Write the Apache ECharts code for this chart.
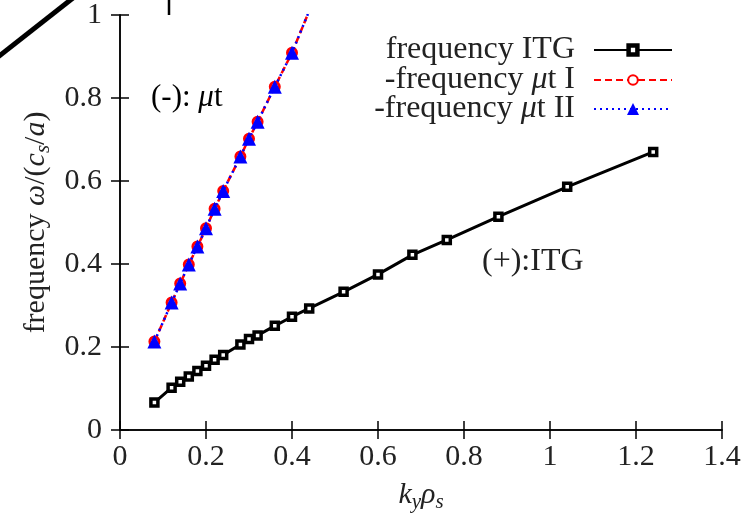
<!DOCTYPE html>
<html>
<head>
<meta charset="utf-8">
<script src="https://cdn.jsdelivr.net/npm/echarts@6/dist/echarts.min.js"></script>
<style>html,body{margin:0;padding:0;background:#fff;}#c{width:752px;height:520px;}</style>
</head>
<body>
<div id="c"></div>
<script>
// ---- data ----
var kyITG   = [0.08, 0.12, 0.14, 0.16, 0.18, 0.20, 0.22, 0.24, 0.28, 0.30, 0.32, 0.36, 0.40, 0.44, 0.52, 0.60, 0.68, 0.76, 0.88, 1.04, 1.24];
var freqITG = [0.066, 0.102, 0.116, 0.129, 0.142, 0.155, 0.169, 0.181, 0.206, 0.219, 0.228, 0.251, 0.273, 0.293, 0.333, 0.375, 0.422, 0.458, 0.514, 0.586, 0.670];
var kyMuT    = [0.08, 0.12, 0.14, 0.16, 0.18, 0.20, 0.22, 0.24, 0.28, 0.30, 0.32, 0.36, 0.40, 0.44];
var freqMuT1 = [0.213, 0.307, 0.353, 0.399, 0.442, 0.486, 0.533, 0.576, 0.659, 0.702, 0.743, 0.827, 0.909, 1.01];
var freqMuT2 = [0.213, 0.307, 0.353, 0.399, 0.442, 0.486, 0.533, 0.576, 0.659, 0.702, 0.743, 0.827, 0.909, 1.01];
var xTicks = [0, 0.2, 0.4, 0.6, 0.8, 1, 1.2, 1.4];
var yTicks = [0, 0.2, 0.4, 0.6, 0.8, 1];
var seriesNames = ['frequency ITG', '-frequency \u03bct I', '-frequency \u03bct II'];

function pairs(xs, ys) { return xs.map(function (x, i) { return [x, ys[i]]; }); }

var FONT = 'Liberation Serif';
var TXT = '#222';
var FS = 30;
var LFS = 32;
var rich = {
  i: { fontFamily: FONT, fontStyle: 'italic', fontSize: FS, color: TXT, lineHeight: 34 },
  n: { fontFamily: FONT, fontSize: FS, color: TXT, lineHeight: 34 },
  s: { fontFamily: FONT, fontStyle: 'italic', fontSize: 21, color: TXT, lineHeight: 20, padding: [14, 0, 0, 0] }
};

function fmtNum(v) { return String(Math.round(v * 10) / 10); }

var chart = echarts.init(document.getElementById('c'), null, { renderer: 'canvas' });

function legendFor(item, top, h) {
  return {
    data: [item],
    right: 79,
    top: top,
    orient: 'vertical',
    align: 'right',
    itemWidth: 78,
    itemHeight: h,
    padding: 0,
    selectedMode: false,
    formatter: function (n) { return n.replace('\u03bc', '{i|\u03bc}'); },
    textStyle: {
      fontFamily: FONT, fontSize: LFS, color: TXT, padding: [0, 14, 0, 0],
      rich: { i: { fontFamily: FONT, fontStyle: 'italic', fontSize: LFS, color: TXT } }
    }
  };
}

var axisLineStyle = { color: '#000', width: 1.5 };

chart.setOption({
  backgroundColor: '#fff',
  animation: false,
  grid: { left: 120, right: 30, top: 15, bottom: 90, containLabel: false },
  legend: [
    legendFor({ name: seriesNames[0], itemStyle: { borderWidth: 4.5 } }, 34, 11),
    legendFor({ name: seriesNames[1] }, 64, 12),
    legendFor({ name: seriesNames[2] }, 93, 15)
  ],
  xAxis: [{
    type: 'value', min: xTicks[0], max: xTicks[xTicks.length - 1], interval: 0.2,
    position: 'bottom',
    axisLine: { show: true, lineStyle: axisLineStyle },
    axisTick: { show: true, inside: true, length: 9, lineStyle: { color: '#000', width: 1.5 } },
    splitLine: { show: false },
    axisLabel: { fontFamily: FONT, fontSize: FS, color: TXT, margin: 12, formatter: fmtNum },
    name: '{i|k}{s|y}{i|\u03c1}{s|s}',
    nameLocation: 'middle', nameGap: 48,
    nameTextStyle: { rich: rich }
  }, {
    type: 'value', min: xTicks[0], max: xTicks[xTicks.length - 1], interval: 0.2,
    position: 'top',
    axisLine: { show: true, lineStyle: axisLineStyle },
    axisTick: { show: true, inside: true, length: 9, lineStyle: { color: '#000', width: 1.5 } },
    splitLine: { show: false },
    axisLabel: { show: false }
  }],
  yAxis: [{
    type: 'value', min: yTicks[0], max: yTicks[yTicks.length - 1], interval: 0.2,
    position: 'left',
    axisLine: { show: true, lineStyle: axisLineStyle },
    axisTick: { show: true, inside: true, length: 9, lineStyle: { color: '#000', width: 1.5 } },
    splitLine: { show: false },
    axisLabel: { fontFamily: FONT, fontSize: FS, color: TXT, margin: 18, formatter: fmtNum },
    name: '{n|frequency }{i|\u03c9}{n|/(}{i|c}{s|s}{n|/}{i|a}{n|)}',
    nameLocation: 'middle', nameGap: 66,
    nameTextStyle: { rich: rich }
  }, {
    type: 'value', min: yTicks[0], max: yTicks[yTicks.length - 1], interval: 0.2,
    position: 'right',
    axisLine: { show: true, lineStyle: axisLineStyle },
    axisTick: { show: true, inside: true, length: 9, lineStyle: { color: '#000', width: 1.5 } },
    splitLine: { show: false },
    axisLabel: { show: false }
  }],
  series: [{
    name: seriesNames[0], type: 'line', xAxisIndex: 0, yAxisIndex: 0,
    data: pairs(kyITG, freqITG), clip: true,
    symbol: 'rect', symbolSize: 7, showAllSymbol: true,
    lineStyle: { color: '#000', width: 3, type: 'solid' },
    itemStyle: { color: '#fff', borderColor: '#000', borderWidth: 3.5 },
    z: 3
  }, {
    name: seriesNames[1], type: 'line', xAxisIndex: 0, yAxisIndex: 0,
    data: pairs(kyMuT, freqMuT1), clip: true,
    symbol: 'circle', symbolSize: 9, showAllSymbol: true,
    lineStyle: { color: '#ff0000', width: 2.5, type: [7, 4] },
    itemStyle: { color: '#fff', borderColor: '#ff0000', borderWidth: 3 },
    z: 3
  }, {
    name: seriesNames[2], type: 'line', xAxisIndex: 0, yAxisIndex: 0,
    data: pairs(kyMuT, freqMuT2), clip: true,
    symbol: 'triangle', symbolSize: 14, showAllSymbol: true,
    lineStyle: { color: '#0000ff', width: 2.5, type: [2, 4] },
    itemStyle: { color: '#0000ff', borderColor: '#0000ff', borderWidth: 0 },
    z: 4
  }],
  graphic: [
    { type: 'text', left: 151, top: 82, z: 10,
      style: { text: '{n|(-): }{i|\u03bc}{n|t}', rich: {
        i: { fontFamily: FONT, fontStyle: 'italic', fontSize: 31, color: TXT, lineHeight: 34 },
        n: { fontFamily: FONT, fontSize: 31, color: TXT, lineHeight: 34 } } } },
    { type: 'text', left: 482, top: 246, z: 10,
      style: { text: '(+):ITG', fontFamily: FONT, fontSize: 32, fill: TXT } },
    { type: 'line', z: 10, shape: { x1: -2, y1: 57, x2: 73, y2: -2 },
      style: { stroke: '#000', lineWidth: 5 } },
    { type: 'line', z: 10, shape: { x1: 169, y1: 0, x2: 169, y2: 15 },
      style: { stroke: '#000', lineWidth: 2.5 } }
  ]
});
</script>
</body>
</html>
